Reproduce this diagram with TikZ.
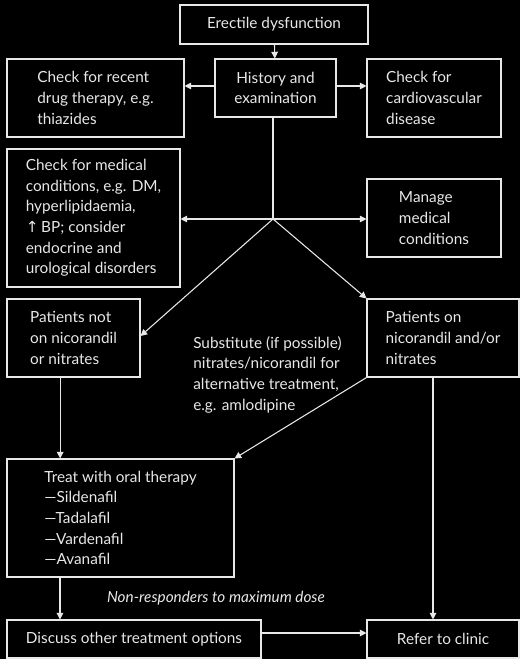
\documentclass[tikz,border=0pt]{standalone}
\usepackage{fontspec}
\setmainfont{Lato}
\newfontfamily\symfont{DejaVu Sans}
\usetikzlibrary{arrows.meta}
\definecolor{ink}{HTML}{E8E8E8}
\definecolor{bg}{HTML}{000000}
\tikzset{
  box/.style={draw=ink,line width=0.8pt,text=ink,align=left,inner sep=0pt},
  note/.style={text=ink,align=left,inner sep=0pt},
  arr/.style={draw=ink,line width=0.8pt,-{Triangle[length=5pt,width=5pt]}},
  link/.style={draw=ink,line width=0.8pt},
}

\begin{document}
\begin{tikzpicture}[x=0.75pt,y=-0.75pt,font=\fontsize{11.5}{15.5}\selectfont]
      \fill[bg] (0,0) rectangle (520,659);
      % boxes, top to bottom
      \node[box,align=center,minimum width=141pt,minimum height=29.25pt] (ed) at (274,24.5) {Erectile dysfunction};
      \node[box,align=center,minimum width=90.75pt,minimum height=43.5pt] (hist) at (275.5,88) {History and\\examination};
      \node[box,minimum width=132.75pt,minimum height=58.5pt] (drug) at (95.5,98) {Check for recent\\drug therapy, e.g.\\thiazides};
      \node[box,minimum width=100.5pt,minimum height=58.5pt] (cardio) at (434,98) {Check for\\cardiovascular\\disease};
      \node[box,minimum width=129.75pt,minimum height=103.5pt] (medcond) at (93.5,218) {Check for medical\\conditions, e.g. DM,\\hyperlipidaemia,\\{\symfont\char"2191}\,BP; consider\\endocrine and\\urological disorders};
      \node[box,minimum width=100.5pt,minimum height=58.5pt] (manage) at (434,218) {Manage\\medical\\conditions};
      \node[box,minimum width=99.75pt,minimum height=58.5pt] (notnit) at (73.5,338) {Patients not\\on nicorandil\\or nitrates};
      \node[box,minimum width=114pt,minimum height=58.5pt] (onnit) at (443,338) {Patients on\\nicorandil and/or\\nitrates};
      \node[box,minimum width=170.25pt,minimum height=88.5pt] (treat) at (120.5,518) {Treat with oral therapy\\---Sildenafil\\---Tadalafil\\---Vardenafil\\---Avanafil};
      \node[box,align=center,minimum width=190.5pt,minimum height=28.5pt] (discuss) at (134,639) {Discuss other treatment options};
      \node[box,align=center,minimum width=114pt,minimum height=28.5pt] (refer) at (443,639) {Refer to clinic};
      % free texts
      \node[note,anchor=west] (subst) at (193,374.5) {Substitute (if possible)\\nitrates/nicorandil for\\alternative treatment,\\e.g. amlodipine};
      \node[note,font=\fontsize{11.5}{15.5}\selectfont\itshape] (nonresp) at (216,598) {Non-responders to maximum dose};
      \coordinate (jn) at (273,219);
      % connectors
      \draw[arr] (ed) -- (hist);
      \draw[arr] ([yshift=1.5pt]hist.west) -- ([yshift=1.5pt]hist.west -| drug.east);
      \draw[arr] ([yshift=1.5pt]hist.east) -- ([yshift=1.5pt]hist.east -| cardio.west);
      \draw[link] (hist.south -| jn) -- (jn);
      \draw[arr] (jn) -- (jn -| medcond.east);
      \draw[arr] (jn) -- (jn -| manage.west);
      \draw[arr] (jn) -- ([yshift=1.5pt]notnit.east);
      \draw[arr] (jn) -- (onnit.north west);
      \draw[arr] (onnit.south west) -- (treat.north east);
      \draw[arr] ([xshift=-10pt]notnit.south) -- ([xshift=-10pt]notnit.south |- treat.north);
      \draw[arr] ([xshift=-7.5pt]onnit.south) -- ([xshift=-7.5pt]onnit.south |- refer.north);
      \draw[arr] ([xshift=-45.4pt]treat.south) -- ([xshift=-45.4pt]treat.south |- discuss.north);
      \draw[arr] ([yshift=4.5pt]discuss.east) -- ([yshift=4.5pt]discuss.east -| refer.west);
    \end{tikzpicture}
\end{document}
